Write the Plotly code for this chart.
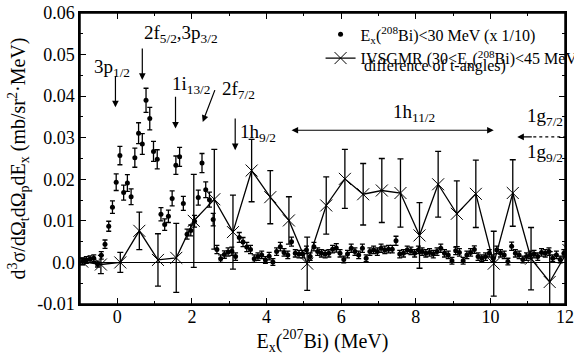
import plotly.graph_objects as go

# ---- data: Ex(208Bi) < 30 MeV (x 1/10) ----
dot_x = [-0.93, -0.83, -0.73, -0.63, -0.53, -0.43, -0.33, -0.23, -0.13, -0.03,
         0.07, 0.17, 0.27, 0.37, 0.47, 0.57, 0.67, 0.77, 0.87, 0.97,
         1.07, 1.17, 1.27, 1.37, 1.47, 1.57, 1.67, 1.77, 1.87, 1.97,
         2.07, 2.17, 2.27, 2.37, 2.47, 2.57, 2.67, 2.77, 2.87, 2.97,
         3.07, 3.17, 3.27, 3.37, 3.47, 3.57, 3.67, 3.77, 3.87, 3.97,
         4.07, 4.17, 4.27, 4.37, 4.47, 4.57, 4.67, 4.77, 4.87, 4.97,
         5.07, 5.17, 5.27, 5.37, 5.47, 5.57, 5.67, 5.77, 5.87, 5.97,
         6.07, 6.17, 6.27, 6.37, 6.47, 6.57, 6.67, 6.77, 6.87, 6.97,
         7.07, 7.17, 7.27, 7.37, 7.47, 7.57, 7.67, 7.77, 7.87, 7.97,
         8.07, 8.17, 8.27, 8.37, 8.47, 8.57, 8.67, 8.77, 8.87, 8.97,
         9.07, 9.17, 9.27, 9.37, 9.47, 9.57, 9.67, 9.77, 9.87, 9.97,
         10.07, 10.17, 10.27, 10.37, 10.47, 10.57, 10.67, 10.77, 10.87, 10.97,
         11.07, 11.17, 11.27, 11.37, 11.47, 11.57, 11.67, 11.77, 11.87, 11.97]
dot_y = [0.0003, 0.0006, 0.0008, 0.0010, -0.0004, 0.0017, 0.0044, 0.0087, 0.0133, 0.0193,
         0.0257, 0.0168, 0.0191, 0.0158, 0.0252, 0.0311, 0.0285, 0.0390, 0.0346, 0.0267,
         0.0248, 0.0116, 0.0091, 0.0111, 0.0154, 0.0234, 0.0254, 0.0142, 0.0068, 0.0077,
         0.0099, 0.0156, 0.0239, 0.0175, 0.0151, 0.0103, 0.0031, 0.0009, 0.0019, 0.0025,
         0.0027, 0.0014, 0.0060, 0.0049, 0.0037, 0.0031, 0.0009, 0.0014, 0.0018, 0.0006,
         0.0015, 0.0001, 0.0026, 0.0038, 0.0024, 0.0018, 0.0050, 0.0022, 0.0020, 0.0020,
         0.0030, 0.0014, 0.0038, 0.0026, 0.0022, 0.0020, 0.0022, 0.0032, 0.0035, 0.0022,
         0.0007, 0.0020, 0.0034, 0.0026, 0.0018, 0.0034, 0.0010, 0.0026, 0.0030, 0.0026,
         0.0034, 0.0030, 0.0032, 0.0032, 0.0052, 0.0020, 0.0022, 0.0030, 0.0028, 0.0022,
         0.0030, 0.0026, 0.0022, 0.0024, 0.0020, 0.0026, 0.0034, 0.0022, 0.0018, 0.0004,
         0.0028, 0.0024, 0.0004, 0.0018, 0.0024, 0.0031, 0.0014, 0.0010, 0.0014, 0.0022,
         0.0010, 0.0030, 0.0022, 0.0018, 0.0002, 0.0039, 0.0022, 0.0018, 0.0007, 0.0014,
         0.0018, 0.0020, 0.0014, 0.0024, 0.0022, 0.0026, 0.0010, 0.0018, 0.0007, 0.0022]
dot_err = [0.0008, 0.0008, 0.0008, 0.0008, 0.0007, 0.0009, 0.0010, 0.0012, 0.0015, 0.0020,
           0.0022, 0.0018, 0.0020, 0.0019, 0.0023, 0.0025, 0.0025, 0.0029, 0.0027, 0.0024,
           0.0023, 0.0016, 0.0014, 0.0015, 0.0018, 0.0022, 0.0023, 0.0017, 0.0012, 0.0013,
           0.0014, 0.0018, 0.0023, 0.0019, 0.0018, 0.0015, 0.0010, 0.0009, 0.0009, 0.0010,
           0.0010, 0.0009, 0.0012, 0.0011, 0.0011, 0.0010, 0.0009, 0.0009, 0.0009, 0.0008,
           0.0009, 0.0008, 0.0009, 0.0010, 0.0009, 0.0009, 0.0011, 0.0009, 0.0009, 0.0009,
           0.0009, 0.0009, 0.0010, 0.0009, 0.0009, 0.0009, 0.0009, 0.0009, 0.0010, 0.0009,
           0.0008, 0.0009, 0.0010, 0.0009, 0.0009, 0.0010, 0.0008, 0.0009, 0.0009, 0.0009,
           0.0010, 0.0009, 0.0009, 0.0009, 0.0011, 0.0009, 0.0009, 0.0009, 0.0009, 0.0009,
           0.0009, 0.0009, 0.0009, 0.0009, 0.0009, 0.0009, 0.0010, 0.0009, 0.0009, 0.0008,
           0.0009, 0.0009, 0.0008, 0.0009, 0.0009, 0.0009, 0.0009, 0.0008, 0.0009, 0.0009,
           0.0008, 0.0009, 0.0009, 0.0009, 0.0008, 0.0010, 0.0009, 0.0009, 0.0008, 0.0009,
           0.0009, 0.0009, 0.0009, 0.0009, 0.0009, 0.0009, 0.0008, 0.0009, 0.0008, 0.0009]

# ---- data: IVSGMR (difference of t-angles) ----
iv_x = [-0.94, -0.44, 0.08, 0.59, 1.09, 1.58, 2.05, 2.60, 3.10, 3.60,
        4.10, 4.60, 5.09, 5.60, 6.10, 6.59, 7.09, 7.59, 8.10, 8.60,
        9.10, 9.61, 10.09, 10.60, 11.09, 11.59, 12.09]
iv_y = [0.0002, -0.0005, 0.0000, 0.0076, 0.0006, 0.0011, 0.0100, 0.0152, 0.0073, 0.0221,
        0.0157, 0.0101, -0.0003, 0.0137, 0.0201, 0.0164, 0.0173, 0.0167, 0.0065, 0.0188,
        0.0117, 0.0165, -0.0003, 0.0167, 0.0009, -0.0047, 0.0030]
iv_err = [0.0008, 0.0022, 0.0024, 0.0045, 0.0063, 0.0083, 0.0112, 0.0120, 0.0089, 0.0075,
          0.0064, 0.0057, 0.0064, 0.0069, 0.0071, 0.0074, 0.0077, 0.0082, 0.0079, 0.0079,
          0.0079, 0.0081, 0.0078, 0.0080, 0.0075, 0.0073, 0.0070]

x_ticks = [0, 2, 4, 6, 8, 10, 12]
x_ticklabels = ["0", "2", "4", "6", "8", "10", "12"]
y_ticks = [-0.01, 0.0, 0.01, 0.02, 0.03, 0.04, 0.05, 0.06]
y_ticklabels = ["-0.01", "0.0", "0.01", "0.02", "0.03", "0.04", "0.05", "0.06"]

FONT = "Liberation Serif"

fig = go.Figure()
fig.add_trace(go.Scatter(
    x=dot_x, y=dot_y, mode="markers",
    name="E<sub>x</sub>(<sup>208</sup>Bi)&lt;30 MeV (x 1/10)",
    marker=dict(symbol="circle", size=5, color="black"),
    error_y=dict(type="data", array=dot_err, color="black", thickness=1.3, width=2.5),
))
fig.add_trace(go.Scatter(
    x=iv_x, y=iv_y, mode="lines+markers",
    name="IVSGMR (30&lt;E<sub>x</sub>(<sup>208</sup>Bi)&lt;45 MeV",
    line=dict(color="black", width=1.3),
    marker=dict(symbol="x-thin", size=12, color="black", line=dict(width=1, color="black")),
    error_y=dict(type="data", array=iv_err, color="black", thickness=1.3, width=3),
))

ann = []
def label(x, y, text, xanchor="center", size=19):
    ann.append(dict(x=x, y=y, xref="x", yref="y", text=text, showarrow=False,
                    xanchor=xanchor, yanchor="middle", font=dict(size=size, family=FONT, color="black")))

def arrow(x0, y0, x1, y1, side="end"):
    ann.append(dict(x=x1, y=y1, ax=x0, ay=y0, xref="x", yref="y", axref="x", ayref="y",
                    text="", showarrow=True, arrowhead=2, arrowsize=1.1, arrowwidth=1.2,
                    arrowcolor="black", arrowside=side, startarrowhead=2, startarrowsize=1.1))

label(-0.13, 0.0468, "3p<sub>1/2</sub>")
arrow(-0.05, 0.0452, -0.05, 0.0373)
label(0.65, 0.0550, "2f<sub>5/2</sub>,3p<sub>3/2</sub>", xanchor="left")
arrow(0.67, 0.0518, 0.67, 0.0439)
label(1.42, 0.0428, "1i<sub>13/2</sub>", xanchor="left")
arrow(1.56, 0.0402, 1.56, 0.0322)
label(2.75, 0.0415, "2f<sub>7/2</sub>", xanchor="left")
arrow(2.63, 0.0418, 2.29, 0.0338)
label(3.23, 0.0312, "1h<sub>9/2</sub>", xanchor="left")
arrow(3.16, 0.0350, 3.16, 0.0270)
label(7.95, 0.0360, "1h<sub>11/2</sub>", xanchor="center")
arrow(4.63, 0.0318, 10.09, 0.0318, side="end+start")
label(12.0, 0.0349, "1g<sub>7/2</sub>", xanchor="right")
label(12.0, 0.0263, "1g<sub>9/2</sub>", xanchor="right")
arrow(11.15, 0.0302, 10.72, 0.0302)

# continuation line of the second legend entry
ann.append(dict(x=0.581, y=0.818, xref="paper", yref="paper", text="difference of t-angles)",
                showarrow=False, xanchor="left", yanchor="middle",
                font=dict(size=16, family=FONT, color="black")))

fig.add_shape(type="line", x0=11.15, x1=12.0, y0=0.0302, y1=0.0302, xref="x", yref="y",
              line=dict(color="black", width=1.2, dash="dot"))
# plot frame
fig.add_shape(type="rect", x0=0, x1=1, y0=0, y1=1, xref="paper", yref="paper",
              line=dict(color="black", width=1.5), fillcolor="rgba(0,0,0,0)", layer="above")

fig.update_layout(
    width=574, height=358,
    margin=dict(l=80, r=9, t=13, b=54, autoexpand=False),
    paper_bgcolor="white", plot_bgcolor="white",
    font=dict(family=FONT, size=16, color="black"),
    annotations=ann,
    showlegend=True,
    legend=dict(x=0.496, y=0.985, xanchor="left", yanchor="top", bgcolor="rgba(0,0,0,0)",
                font=dict(size=16, family=FONT), tracegroupgap=0, itemwidth=30),
)
fig.update_xaxes(
    range=[-1, 12], tickvals=x_ticks, ticktext=x_ticklabels,
    ticks="inside", ticklen=6, tickwidth=1.3, tickcolor="black",
    minor=dict(tickvals=[-1, 1, 3, 5, 7, 9, 11], ticks="inside", ticklen=3, tickwidth=1.2, tickcolor="black"),
    showline=True, linecolor="black", linewidth=1.5, mirror="allticks",
    showgrid=False, zeroline=False, ticklabeloverflow="allow", ticklabelstandoff=-4,
    tickfont=dict(size=18, family=FONT),
    title=dict(text="E<sub>x</sub>(<sup>207</sup>Bi) (MeV)", font=dict(size=20, family=FONT), standoff=0),
)
fig.update_yaxes(
    range=[-0.01, 0.06], tickvals=y_ticks, ticktext=y_ticklabels,
    ticks="inside", ticklen=6, tickwidth=1.3, tickcolor="black",
    minor=dict(tickvals=[-0.005, 0.005, 0.015, 0.025, 0.035, 0.045, 0.055], ticks="inside",
               ticklen=3, tickwidth=1.2, tickcolor="black"),
    showline=True, linecolor="black", linewidth=1.5, mirror="allticks",
    showgrid=False, zeroline=True, zerolinecolor="black", zerolinewidth=1.3,
    ticklabeloverflow="allow",
    tickfont=dict(size=18, family=FONT),
    title=dict(text="d<sup>3</sup>σ/dΩ<sub>t</sub>dΩ<sub>p</sub>dE<sub>x</sub> (mb/sr<sup>2</sup>·MeV)",
               font=dict(size=20, family=FONT), standoff=6),
)

fig.write_html("out.html", config={"displayModeBar": False},
               post_script="document.body.style.margin='0';document.body.style.overflow='hidden';")
